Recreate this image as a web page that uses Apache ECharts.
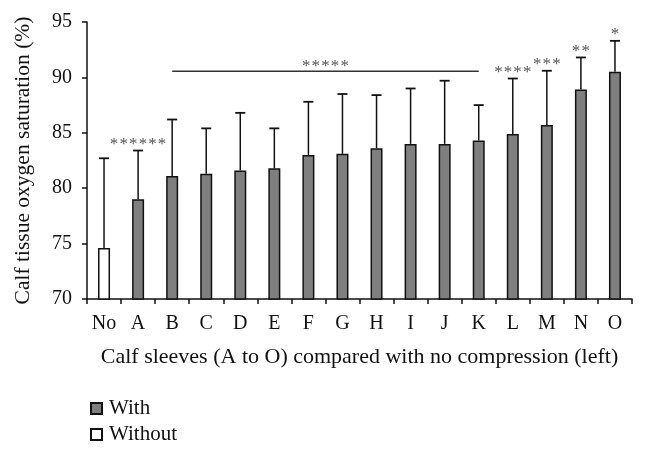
<!DOCTYPE html>
<html>
<head>
<meta charset="utf-8">
<script src="https://cdn.jsdelivr.net/npm/echarts@6/dist/echarts.min.js"></script>
<style>html,body{margin:0;padding:0;background:#fff}#c{width:646px;height:453px}</style>
</head>
<body>
<div id="c"></div>
<script>
const categories = ['No','A','B','C','D','E','F','G','H','I','J','K','L','M','N','O'];
const withValues = [null, 79.0, 81.1, 81.3, 81.6, 81.8, 83.0, 83.1, 83.6, 84.0, 84.0, 84.3, 84.9, 85.7, 88.9, 90.5];
const withoutValues = [74.6, null, null, null, null, null, null, null, null, null, null, null, null, null, null, null];
const errorTops = [82.7, 83.4, 86.2, 85.4, 86.8, 85.4, 87.8, 88.5, 88.4, 89.0, 89.7, 87.5, 89.9, 90.6, 91.8, 93.3];
const sigLabels = ['', '******', '', '', '', '', '', '', '', '', '', '', '****', '***', '**', '*'];
const bracketFrom = 'B', bracketTo = 'K', bracketLevel = 90.55, bracketLabel = '*****';
const yTicks = [70, 75, 80, 85, 90, 95];

const serif = '"Liberation Serif", "DejaVu Serif", serif';

const barVals = categories.map((c, i) => withValues[i] != null ? withValues[i] : withoutValues[i]);
const errData = categories.map((c, i) => [i, barVals[i], errorTops[i]]);

function starTexts(label, cx, cy) {
  const n = label.length, pitch = 9.6, out = [];
  for (let k = 0; k < n; k++) {
    out.push({type: 'text', style: {
      text: '*', x: cx + (k - (n - 1) / 2) * pitch, y: cy + 4,
      align: 'center', verticalAlign: 'middle',
      fontFamily: serif, fontSize: 17, fill: '#555'
    }});
  }
  return out;
}

const chart = echarts.init(document.getElementById('c'), null, {renderer: 'canvas'});
chart.setOption({
  animation: false,
  backgroundColor: '#fff',
  textStyle: {fontFamily: serif},
  grid: {left: 87, right: 14, top: 22, bottom: 154, containLabel: false},
  legend: {
    orient: 'vertical', left: 85, top: 393, itemWidth: 11, itemHeight: 11, itemGap: 5,
    icon: 'rect',
    textStyle: {fontFamily: serif, fontSize: 21, color: '#111', padding: [0, 0, 0, 2]},
    data: ['With', 'Without']
  },
  xAxis: {
    type: 'category', data: categories,
    name: 'Calf sleeves (A to O) compared with no compression (left)',
    nameLocation: 'middle', nameGap: 47,
    nameTextStyle: {fontFamily: serif, fontSize: 22, color: '#111'},
    axisLine: {lineStyle: {color: '#111', width: 1.5}},
    axisTick: {show: true, length: 5, lineStyle: {color: '#111', width: 1.5}},
    axisLabel: {fontFamily: serif, fontSize: 20, color: '#111', margin: 15}
  },
  yAxis: {
    type: 'value', min: yTicks[0], max: yTicks[yTicks.length - 1], interval: 5,
    name: 'Calf tissue oxygen saturation (%)',
    nameLocation: 'middle', nameGap: 53,
    nameTextStyle: {fontFamily: serif, fontSize: 21.5, color: '#111'},
    axisLine: {show: true, lineStyle: {color: '#111', width: 1.5}},
    axisTick: {show: true, length: 5, lineStyle: {color: '#111', width: 1.5}},
    axisLabel: {fontFamily: serif, fontSize: 20, color: '#111', margin: 15},
    splitLine: {show: false}
  },
  series: [
    {
      name: 'With', type: 'bar', data: withValues, barWidth: 12, barGap: '-100%',
      itemStyle: {color: '#7f7f7f', borderColor: '#111', borderWidth: 1.5}
    },
    {
      name: 'Without', type: 'bar', data: withoutValues, barWidth: 12,
      itemStyle: {color: '#ffffff', borderColor: '#111', borderWidth: 1.5}
    },
    {
      type: 'custom', name: 'err', z: 5, data: errData,
      renderItem: function (params, api) {
        const i = api.value(0);
        const base = api.coord([i, api.value(1)]);
        const top = api.coord([i, api.value(2)]);
        const lab = sigLabels[i];
        let children = [
          {type: 'line', shape: {x1: top[0], y1: base[1], x2: top[0], y2: top[1]}, style: {stroke: '#111', lineWidth: 1.5}},
          {type: 'line', shape: {x1: top[0] - 5, y1: top[1], x2: top[0] + 5, y2: top[1]}, style: {stroke: '#111', lineWidth: 1.8}}
        ];
        if (lab) children = children.concat(starTexts(lab, top[0], top[1] - 10));
        return {type: 'group', children: children};
      }
    },
    {
      type: 'custom', name: 'bracket', z: 5,
      data: [[categories.indexOf(bracketFrom), categories.indexOf(bracketTo), bracketLevel]],
      renderItem: function (params, api) {
        const a = api.coord([api.value(0), api.value(2)]);
        const b = api.coord([api.value(1), api.value(2)]);
        return {type: 'group', children: [
          {type: 'line', shape: {x1: a[0], y1: a[1], x2: b[0], y2: b[1]}, style: {stroke: '#333', lineWidth: 1.5}}
        ].concat(starTexts(bracketLabel, (a[0] + b[0]) / 2, a[1] - 9))};
      }
    }
  ]
});
</script>
</body>
</html>
